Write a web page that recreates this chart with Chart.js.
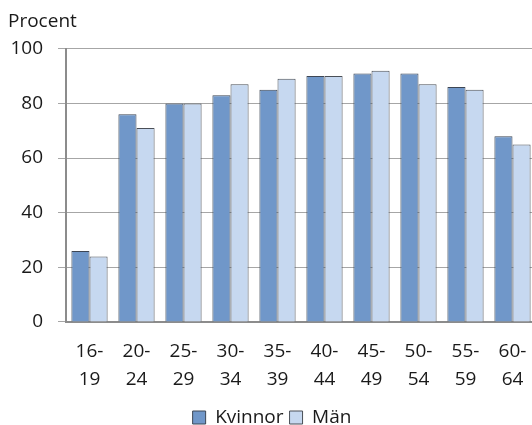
<!DOCTYPE html>
<html>
<head>
<meta charset="utf-8">
<script src="https://cdn.jsdelivr.net/npm/chart.js@4/dist/chart.umd.min.js"></script>
<style>
  body { margin: 0; overflow: hidden; background: #fff; }
  #wrap { width: 532px; height: 425px; overflow: hidden; }
</style>
</head>
<body>
<div id="wrap"><canvas id="Chart" width="536" height="437"></canvas></div>
<script>
// age groups (two-line labels)
const categories = [
    ['16-', '19'], ['20-', '24'], ['25-', '29'], ['30-', '34'], ['35-', '39'],
    ['40-', '44'], ['45-', '49'], ['50-', '54'], ['55-', '59'], ['60-', '64']
];
const kvinnor = [26, 76, 80, 83, 85, 90, 91, 91, 86, 68];
const man = [24, 71, 80, 87, 89, 90, 92, 87, 85, 65];
const yTicks = [0, 20, 40, 60, 80, 100];

const font = { family: 'Open Sans', size: 19 };

const ctx = document.getElementById('Chart').getContext('2d');
const myChart = new Chart(ctx, {
    type: 'bar',
    data: {
        labels: categories,
        datasets: [{
            label: 'Kvinnor',
            data: kvinnor,
            backgroundColor: '#7097c9',
            borderColor: '#3d4654',
            borderWidth: 1
        }, {
            label: 'Män',
            data: man,
            backgroundColor: '#c6d8f0',
            borderColor: '#4a4f57',
            borderWidth: 1
        }]
    },
    options: {
        responsive: false,
        animation: false,
        layout: { padding: { left: 8, right: 0, top: 10, bottom: 0 } },
        datasets: { bar: { categoryPercentage: 0.77, barPercentage: 1 } },
        plugins: {
            title: {
                display: true,
                text: 'Procent',
                align: 'start',
                color: '#1a1a1a',
                font: { family: 'Open Sans', size: 19, weight: 'normal' },
                padding: { top: 0, bottom: 16 }
            },
            legend: {
                position: 'bottom',
                labels: {
                    color: '#1a1a1a',
                    font: font,
                    boxWidth: 13,
                    boxHeight: 13,
                    padding: 6
                }
            },
            tooltip: { enabled: false }
        },
        scales: {
            x: {
                grid: { display: false },
                border: { display: true, color: '#8c8c8c', width: 2 },
                ticks: { color: '#1a1a1a', font: { family: 'Open Sans', size: 19, lineHeight: 1.474 }, padding: 8, maxRotation: 0 }
            },
            y: {
                min: 0,
                max: 100,
                afterBuildTicks: scale => { scale.ticks = yTicks.map(v => ({ value: v })); },
                afterFit: scale => { scale.width = 58; },
                grid: { color: '#a6a6a6', tickLength: 8, drawTicks: true },
                border: { display: true, color: '#8c8c8c', width: 2 },
                ticks: { color: '#1a1a1a', font: font, padding: 15 }
            }
        }
    }
});
</script>
</body>
</html>
